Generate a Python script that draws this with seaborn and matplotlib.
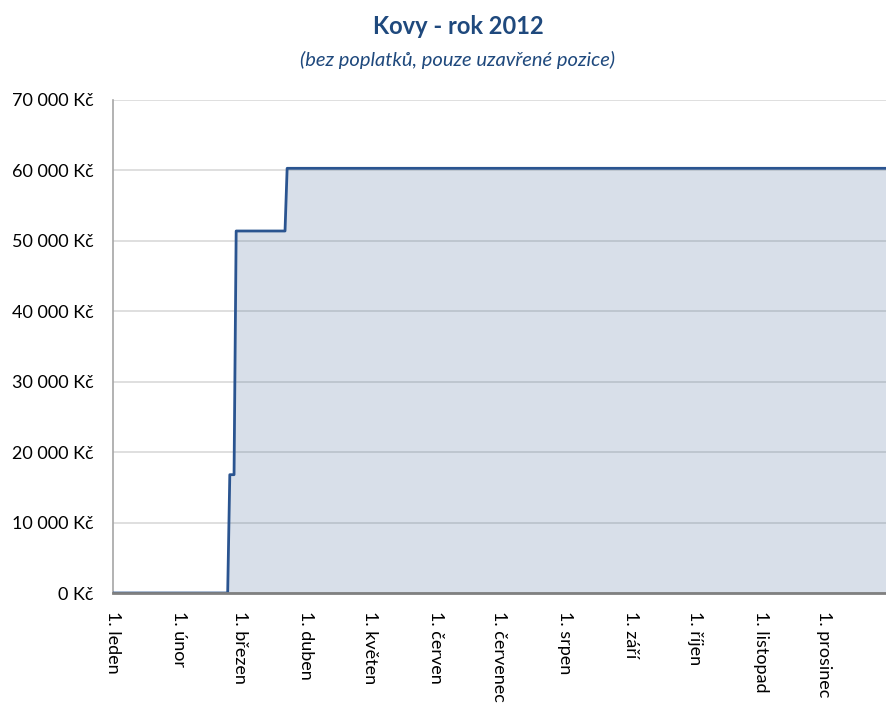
import matplotlib
matplotlib.use('Agg')
import matplotlib.pyplot as plt
import matplotlib.ticker as mticker
import pandas as pd
import seaborn as sns

# data
months = ['leden', 'únor', 'březen', 'duben', 'květen', 'červen', 'červenec',
          'srpen', 'září', 'říjen', 'listopad', 'prosinec']
change_dates = ['2012-02-25', '2012-02-28', '2012-03-23']
change_values = [16800, 51400, 60300]
y_ticks = [0, 10000, 20000, 30000, 40000, 50000, 60000, 70000]

LINE = '#2a5490'
FILL = (0.24, 0.39, 0.57, 0.2)
TEXT_BLUE = '#1f497d'

sns.set_theme(style='whitegrid')
plt.rcParams['font.family'] = ['Lato', 'DejaVu Sans']

days = pd.date_range('2012-01-01', '2012-12-31', freq='D')
profit = (pd.Series(change_values, index=pd.to_datetime(change_dates))
          .reindex(days).ffill().fillna(0))
df = pd.DataFrame({'datum': days, 'zisk': profit.values})

fig = plt.figure(figsize=(8.86, 7.04), dpi=100)
ax = fig.add_axes([113 / 886, 111 / 704, 773 / 886, 493 / 704])

ax.fill_between(df['datum'], 0, df['zisk'], color=FILL, lw=0, zorder=2)
sns.lineplot(data=df, x='datum', y='zisk', ax=ax, color=LINE, lw=2, zorder=3)

ax.set_ylim(0, 70000)
ax.set_xlim(pd.Timestamp('2012-01-01'), pd.Timestamp('2012-12-30'))
ax.set_yticks(y_ticks)
ax.yaxis.set_major_formatter(mticker.FuncFormatter(
    lambda v, p: f'{int(v):,} Kč'.replace(',', ' ')))
ticks = pd.date_range('2012-01-01', periods=12, freq='MS')
ax.set_xticks(ticks)
ax.set_xticklabels([f'1. {m}' for m in months], rotation=-90, va='top', ha='center')
ax.tick_params(axis='both', length=0, labelsize=13, colors='black')
ax.tick_params(axis='x', pad=13)
ax.tick_params(axis='y', pad=14)
ax.grid(axis='x', visible=False)
ax.grid(axis='y', color='#d9d9d9', lw=1.2, zorder=1)
ax.set_axisbelow(True)
ax.set_xlabel('')
ax.set_ylabel('')

for s in ['top', 'right']:
    ax.spines[s].set_visible(False)
ax.spines['left'].set_color('#a6a6a6')
ax.spines['left'].set_linewidth(1.2)
ax.spines['bottom'].set_color('#808080')
ax.spines['bottom'].set_linewidth(2)
ax.spines['bottom'].set_zorder(4)

fig.text(458 / 886, 1 - 26 / 704, 'Kovy - rok 2012', ha='center', va='center',
         fontsize=17, fontweight='bold', color=TEXT_BLUE)
fig.text(458 / 886, 1 - 60 / 704, '(bez poplatků, pouze uzavřené pozice)',
         ha='center', va='center', fontsize=14.5, style='italic', color=TEXT_BLUE)

fig.savefig('out.png', dpi=100)
